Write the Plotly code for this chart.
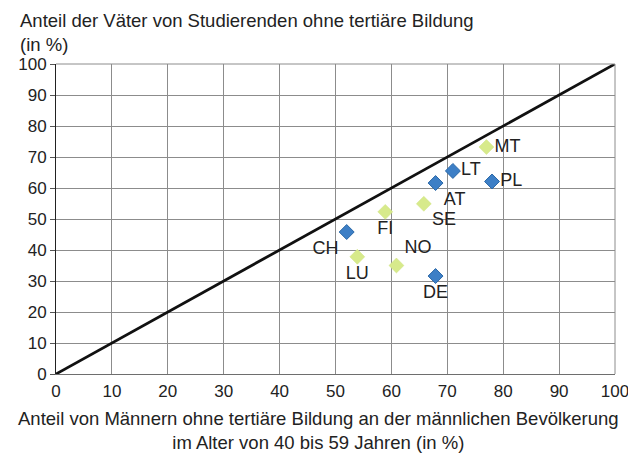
import plotly.graph_objects as go

countries_blue = ["LT", "PL", "AT", "CH", "DE"]
x_blue = [71.0, 78.0, 67.9, 52.0, 67.9]
y_blue = [65.5, 62.1, 61.6, 45.8, 31.6]
pos_blue = ["middle right", "middle right", "bottom right", "bottom left", "bottom center"]

countries_green = ["MT", "SE", "FI", "LU", "NO"]
x_green = [77.0, 65.8, 58.9, 53.9, 60.9]
y_green = [73.2, 54.9, 52.3, 37.8, 35.0]
pos_green = ["middle right", "bottom right", "bottom center", "bottom center", "top right"]

diag = [0, 100]
ticks = list(range(0, 101, 10))

y_title = "Anteil der Väter von Studierenden ohne tertiäre Bildung<br>(in %)"
x_title = "Anteil von Männern ohne tertiäre Bildung an der männlichen Bevölkerung<br>im Alter von 40 bis 59 Jahren (in %)"

font = "Liberation Sans, Arial, sans-serif"
FS_TICK = 17
FS_LAB = 18
FS_TITLE = 18.5
TXT = "#222222"

# layout geometry (page body adds an 8px offset)
ML, MR, MT_, MB = 48, 29, 56, 89
PW = 636 - ML - MR
PH = 455 - MT_ - MB

fig = go.Figure()
fig.add_trace(go.Scatter(x=diag, y=diag, mode="lines",
                         line=dict(color="#111111", width=2.8), hoverinfo="skip"))
fig.add_trace(go.Scatter(x=x_blue, y=y_blue, mode="markers+text", text=countries_blue,
                         textposition=pos_blue,
                         textfont=dict(size=FS_LAB, color=TXT, family=font),
                         marker=dict(symbol="diamond", size=11.5, color="#3d7fc6",
                                     line=dict(color="#2c69a8", width=1))))
fig.add_trace(go.Scatter(x=x_green, y=y_green, mode="markers+text", text=countries_green,
                         textposition=pos_green,
                         textfont=dict(size=FS_LAB, color=TXT, family=font),
                         marker=dict(symbol="diamond", size=11.5, color="#d7ea8b",
                                     line=dict(color="#cfe282", width=0.5))))

fig.update_layout(
    width=636, height=455,
    margin=dict(l=ML, r=MR, t=MT_, b=MB, autoexpand=False),
    paper_bgcolor="white", plot_bgcolor="white",
    showlegend=False,
    font=dict(family=font, size=FS_LAB, color=TXT),
    xaxis=dict(range=[0, 100], tickvals=ticks, showgrid=True, gridcolor="#8c8c8c",
               gridwidth=1, zeroline=False, showline=True, linecolor="#6e6e6e",
               ticks="", automargin=False, ticklabelstandoff=2,
               tickfont=dict(size=FS_TICK, family=font, color=TXT)),
    yaxis=dict(range=[0, 100], tickvals=ticks, showgrid=True, gridcolor="#8c8c8c",
               gridwidth=1, zeroline=False, showline=True, linecolor="#222222",
               ticks="outside", ticklen=5, tickcolor="#555555", automargin=False,
               tickfont=dict(size=FS_TICK, family=font, color=TXT)),
)
fig.add_annotation(text=y_title, xref="paper", yref="paper", x=-38 / PW, y=1 + 56 / PH,
                   xanchor="left", yanchor="top", align="left", showarrow=False,
                   font=dict(size=FS_TITLE, family=font, color=TXT))
fig.add_annotation(text=x_title, xref="paper", yref="paper", x=262 / PW,
                   y=-32 / PH, xanchor="center", yanchor="top", align="center",
                   showarrow=False, font=dict(size=FS_TITLE, family=font, color=TXT))
fig.add_shape(type="line", xref="paper", yref="paper", x0=1, x1=1, y0=0, y1=1,
              line=dict(color="#8c8c8c", width=1))
fig.add_shape(type="line", xref="paper", yref="paper", x0=0, x1=1, y0=1, y1=1,
              line=dict(color="#8c8c8c", width=1))

fig.write_html("out.html")
